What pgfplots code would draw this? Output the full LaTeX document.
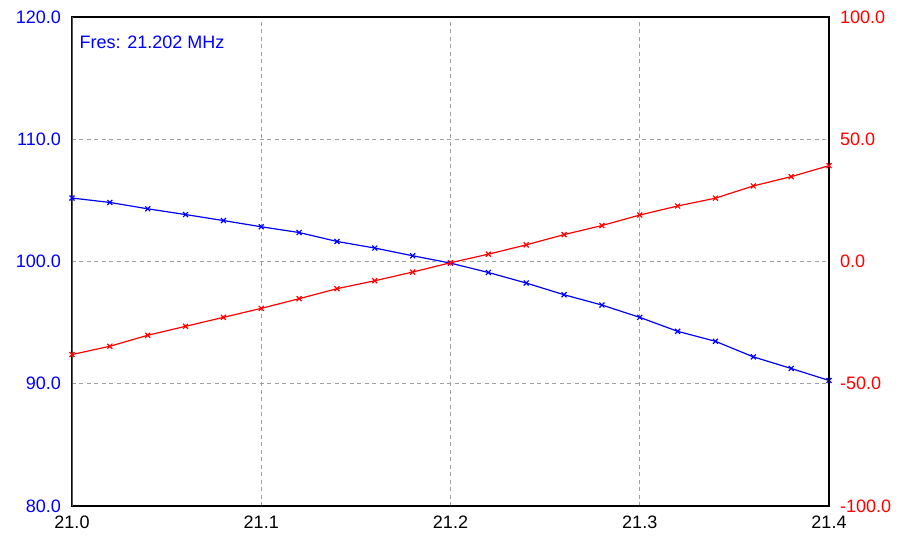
\documentclass[border=0pt]{standalone}
\usepackage{pgfplots}
\pgfplotsset{compat=1.18}
\usepackage{fontspec}
\setmainfont{Liberation Sans}
\definecolor{gridgray}{RGB}{160,160,160}
\definecolor{leftaxis}{RGB}{85,85,85}
\begin{document}
\fontsize{18}{21}\selectfont
\begin{tikzpicture}
\useasboundingbox (-72pt,-40pt) rectangle (829pt,506pt);
\begin{axis}[scale only axis, width=757pt, height=489pt, at={(0,0)}, anchor=south west,
  xmin=21.0, xmax=21.4, ymin=80, ymax=120,
  xtick={21.0,21.1,21.2,21.3,21.4},
  ytick={80,90,100,110,120},
  grid=major, grid style={gridgray, line width=1.3pt, dash pattern=on 4pt off 3.5pt},
  major tick length=0pt,
  axis line style={black, line width=1.3pt},
  /pgf/number format/assume math mode=true,
  xticklabel style={black, font=\fontsize{18}{21}\selectfont, /pgf/number format/.cd, fixed, fixed zerofill, precision=1},
  yticklabel style={blue, font=\fontsize{18}{21}\selectfont, /pgf/number format/.cd, fixed, fixed zerofill, precision=1},
  xticklabel shift=4pt, yticklabel shift=5pt,
]
\addplot[blue, line width=1.2pt, mark=x, mark size=3.5pt] coordinates {
(21.00,105.19) (21.02,104.83) (21.04,104.31) (21.06,103.84) (21.08,103.35)
(21.10,102.84) (21.12,102.37) (21.14,101.64) (21.16,101.10) (21.18,100.47)
(21.20,99.87) (21.22,99.10) (21.24,98.24) (21.26,97.28) (21.28,96.44)
(21.30,95.43) (21.32,94.29) (21.34,93.47) (21.36,92.20) (21.38,91.25) (21.40,90.27)
};
\node[blue, anchor=west, font=\fontsize{18}{21}\selectfont] at (rel axis cs:0.002,0.949) {Fres: 21.202 MHz};
\node[blue, font=\fontsize{18}{21}\selectfont] at (rel axis cs:-0.026,0.575) {R};
\draw[leftaxis, line width=2pt] (rel axis cs:0,0) -- (rel axis cs:0,1);
\end{axis}
\begin{axis}[scale only axis, width=757pt, height=489pt, at={(0,0)}, anchor=south west,
  xmin=21.0, xmax=21.4, ymin=-100, ymax=100,
  axis x line=none, axis y line*=right,
  ytick={-100,-50,0,50,100},
  major tick length=0pt,
  axis line style={black, line width=1.3pt},
  /pgf/number format/assume math mode=true,
  yticklabel style={red, font=\fontsize{18}{21}\selectfont, /pgf/number format/.cd, fixed, fixed zerofill, precision=1},
  yticklabel shift=5pt,
]
\addplot[red, line width=1.2pt, mark=x, mark size=3.5pt] coordinates {
(21.00,-38.05) (21.02,-34.67) (21.04,-30.18) (21.06,-26.51) (21.08,-22.84)
(21.10,-19.17) (21.12,-15.21) (21.14,-11.13) (21.16,-7.87) (21.18,-4.32)
(21.20,-0.5) (21.22,3.0) (21.24,6.8) (21.26,11.0) (21.28,14.7)
(21.30,19.0) (21.32,22.7) (21.34,25.9) (21.36,30.9) (21.38,34.7) (21.40,39.2)
};
\node[red, font=\fontsize{18}{21}\selectfont] at (rel axis cs:1.028,0.575) {jx};
\end{axis}
\end{tikzpicture}
\end{document}
